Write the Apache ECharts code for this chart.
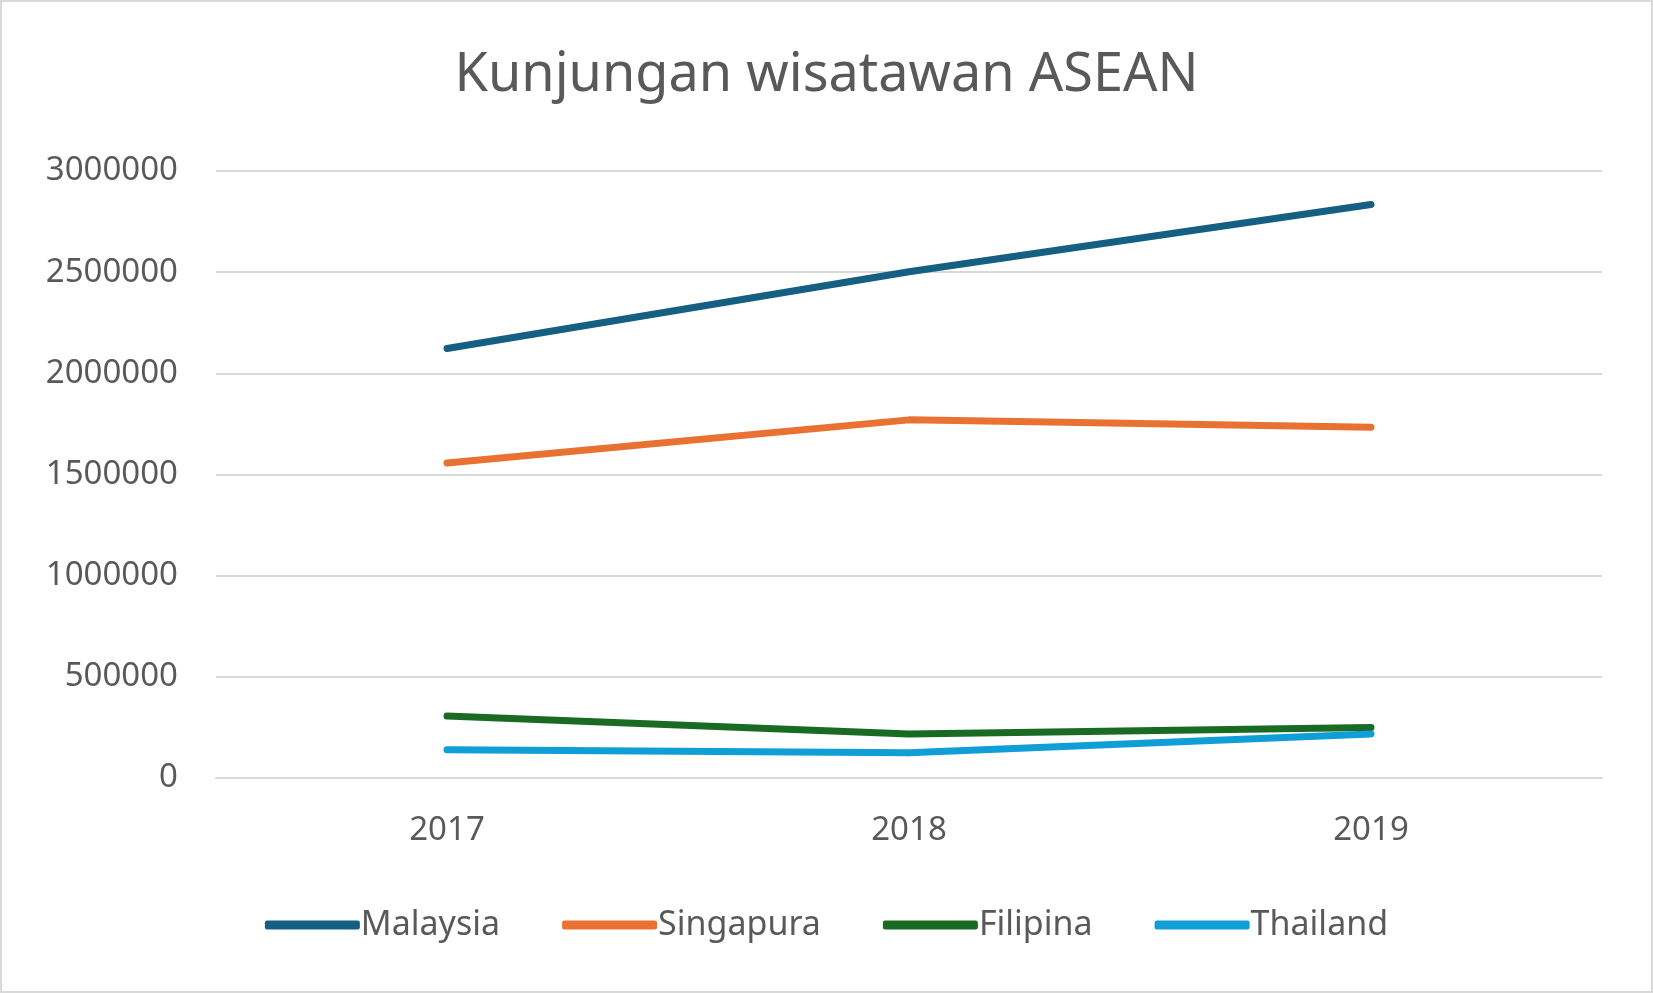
<!DOCTYPE html>
<html>
<head>
<meta charset="UTF-8">
<style>
  html, body { margin: 0; padding: 0; background: #fff; }
  #chart { width: 1653px; height: 993px; box-sizing: border-box; border: 2px solid #d9d9d9; }
</style>
<script src="https://cdn.jsdelivr.net/npm/echarts@6/dist/echarts.min.js"></script>
</head>
<body>
<div id="chart"></div>
<script>
const years = ['2017', '2018', '2019']
const malaysia = [2123000, 2502000, 2834000]
const singapura = [1557000, 1770000, 1734000]
const filipina = [306000, 218000, 249000]
const thailand = [140000, 125000, 218000]

const chart = echarts.init(document.getElementById('chart'))
const font = 'Noto Sans, sans-serif'

const mk = (name, data, color) => ({
  name, data, type: 'line', symbol: 'none',
  lineStyle: { width: 7, color, cap: 'round' },
  itemStyle: { color }
})

chart.setOption({
  animation: false,
  title: {
    text: 'Kunjungan wisatawan ASEAN', left: 'center', top: 42,
    textStyle: { fontFamily: font, fontSize: 54, fontWeight: 'normal', color: '#595959' }
  },
  grid: { left: 214, right: 49, top: 169, bottom: 213 },
  xAxis: {
    type: 'category', data: years, boundaryGap: true,
    axisLine: { lineStyle: { color: '#d9d9d9', width: 2 } },
    axisTick: { show: false },
    axisLabel: { fontFamily: font, fontSize: 33, color: '#595959', margin: 36 }
  },
  yAxis: {
    type: 'value', min: 0, max: 3000000, interval: 500000,
    axisLabel: { fontFamily: font, fontSize: 33, color: '#595959', margin: 38, formatter: v => String(v) },
    splitLine: { lineStyle: { color: '#d9d9d9', width: 2 } }
  },
  legend: {
    bottom: 44, left: 'center', itemWidth: 95, itemHeight: 9, itemGap: 62,
    icon: 'roundRect',
    textStyle: { fontFamily: font, fontSize: 34, color: '#595959', padding: [0, 0, 0, -4] }
  },
  series: [
    mk('Malaysia', malaysia, '#156082'),
    mk('Singapura', singapura, '#e97132'),
    mk('Filipina', filipina, '#196b24'),
    mk('Thailand', thailand, '#0f9ed5')
  ]
})
</script>
</body>
</html>
